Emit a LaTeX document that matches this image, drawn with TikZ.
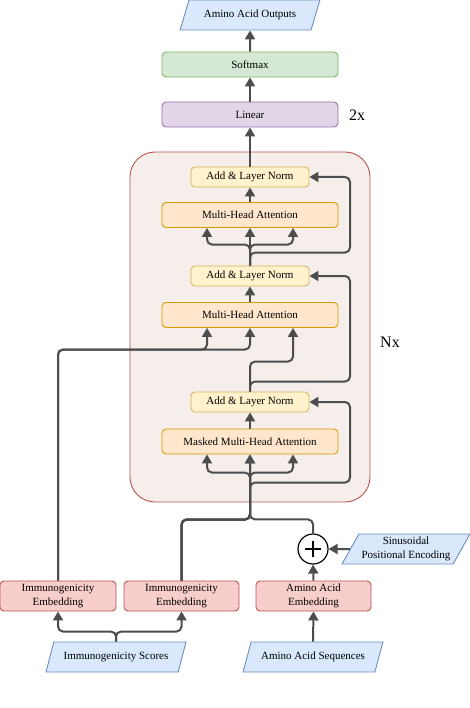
\documentclass[tikz,border=0pt]{standalone}
\usepackage{fontspec}
\setmainfont{Liberation Serif}
\usetikzlibrary{arrows.meta,shapes.geometric,calc}
\definecolor{bluef}{HTML}{DAE8FC}\definecolor{blued}{HTML}{6C8EBF}
\definecolor{greenf}{HTML}{D5E8D4}\definecolor{greend}{HTML}{82B366}
\definecolor{purpf}{HTML}{E1D5E7}\definecolor{purpd}{HTML}{9673A6}
\definecolor{yelf}{HTML}{FFF2CC}\definecolor{yeld}{HTML}{D6B656}
\definecolor{orf}{HTML}{FFE6CC}\definecolor{ord}{HTML}{D79B00}
\definecolor{redf}{HTML}{F8CECC}\definecolor{redd}{HTML}{B85450}
\definecolor{contf}{HTML}{F5EEEB}
\definecolor{linec}{HTML}{4D4D4D}
\tikzset{
  box/.style={rectangle,rounded corners=4pt,line width=0.9pt,inner sep=0pt,
    font=\fontsize{11}{13.5}\selectfont,align=center},
  para/.style={trapezium,trapezium left angle=56,trapezium right angle=124,
    trapezium stretches=true,draw=blued,fill=bluef,line width=0.9pt,inner sep=0pt,
    minimum height=30pt,font=\fontsize{11}{13.5}\selectfont,align=center},
  wide/.style={box,minimum width=176pt},
  anorm/.style={box,draw=yeld,fill=yelf,minimum width=118pt,minimum height=20pt},
  mha/.style={box,draw=ord,fill=orf,minimum width=176pt,minimum height=25pt},
  emb/.style={box,draw=redd,fill=redf,minimum width=115pt,minimum height=30pt},
  conn/.style={draw=linec,line width=2pt,rounded corners=5pt,
    -{Triangle[length=9pt,width=10pt]}},
  bigl/.style={font=\fontsize{16}{18}\selectfont}
}
\begin{document}
\begin{tikzpicture}[x=1pt,y=-1pt]
\useasboundingbox (0,0) rectangle (470,708);
% container
\draw[draw=redd,fill=contf,line width=0.9pt,rounded corners=25pt] (130,152) rectangle (370,502);
% nodes
\node[para,minimum width=140pt] (out) at (250,15) {Amino Acid Outputs};
\node[wide,draw=greend,fill=greenf,minimum height=25pt] (soft) at (250,64.5) {Softmax};
\node[wide,draw=purpd,fill=purpf,minimum height=25pt] (lin) at (250,114.5) {Linear};
\node[bigl] (twox) at (357,115) {2x};
\node[anorm] (an3) at (250,177) {Add \& Layer Norm};
\node[mha] (mha2) at (250,215) {Multi-Head Attention};
\node[anorm] (an2) at (250,276) {Add \& Layer Norm};
\node[mha] (mha1) at (250,315) {Multi-Head Attention};
\node[anorm] (an1) at (250,402) {Add \& Layer Norm};
\node[mha] (mmha) at (250,441.5) {Masked Multi-Head Attention};
\node[bigl] (nx) at (390,342) {Nx};
\node[circle,draw=black,fill=white,line width=1.2pt,minimum size=30pt,inner sep=0pt,
  path picture={\draw[line width=2.6pt,line cap=butt] ([xshift=-8pt]path picture bounding box.center) -- ([xshift=8pt]path picture bounding box.center)
  ([yshift=-8pt]path picture bounding box.center) -- ([yshift=8pt]path picture bounding box.center);}] (plus) at (313,549) {};
\node[para,minimum width=128pt] (sin) at (406,549) {Sinusoidal\\Positional Encoding};
\node[emb,minimum width=116pt] (ie1) at (58,596) {Immunogenicity\\Embedding};
\node[emb] (ie2) at (181.5,596) {Immunogenicity\\Embedding};
\node[emb] (aae) at (313.5,596) {Amino Acid\\Embedding};
\node[para,minimum width=140pt] (isc) at (116,657) {Immunogenicity Scores};
\node[para,minimum width=140pt] (aas) at (313,657) {Amino Acid Sequences};
% connectors top
\draw[conn] (lin.north) -- (soft.south);
\draw[conn] (soft.north) -- (out.south);
\draw[conn] (an3.north) -- (lin.south);
\draw[conn] (mha2.north) -- (an3.south);
\draw[conn] (an2.north) -- (mha2.south);
\draw[conn] (an2.north) -- ++(0,-21) -| ([xshift=-43pt]mha2.south);
\draw[conn] (an2.north) -- ++(0,-21) -| ([xshift=43pt]mha2.south);
\draw[conn] (an2.north) -- ++(0,-13) -- ++(100,0) |- (an3.east);
\draw[conn] (mha1.north) -- (an2.south);
\draw[conn] (an1.north) -- ++(0,-30) -| ([xshift=43pt]mha1.south);
\draw[conn] (an1.north) -- ++(0,-10) -- ++(100,0) |- (an2.east);
\draw[conn] (ie1.north) -- ++(0,-231) -| ([xshift=-43pt]mha1.south);
\draw[conn] (ie1.north) -- ++(0,-231) -| (mha1.south);
\draw[conn] (mmha.north) -- (an1.south);
% into masked MHA
\draw[conn] (ie2.north) -- ++(0,-61) -| (mmha.south);
\draw[conn] (plus.north) -- ++(0,-14) -| (mmha.south);
\draw[conn] (ie2.north) -- ++(0,-61) -- ++(68.5,0) -- ++(0,-47) -| ([xshift=-43pt]mmha.south);
\draw[conn] (ie2.north) -- ++(0,-61) -- ++(68.5,0) -- ++(0,-47) -| ([xshift=43pt]mmha.south);
\draw[conn] (ie2.north) -- ++(0,-61) -- ++(68.5,0) -- ++(0,-37) -- ++(100,0) |- (an1.east);
% bottom
\draw[conn] (aae.north) -- (plus.south);
\draw[conn] (sin.west) -- (plus.east);
\draw[conn] (isc.north) -- ++(0,-10) -| (ie1.south);
\draw[conn] (isc.north) -- ++(0,-10) -| (ie2.south);
\draw[conn] (aas.north) -- (aae.south);
\end{tikzpicture}
\end{document}
